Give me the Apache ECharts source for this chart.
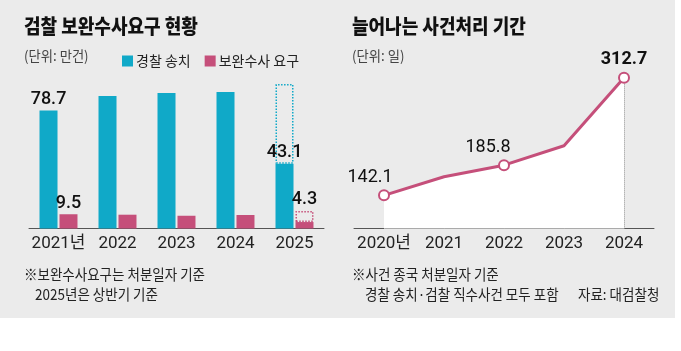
<!DOCTYPE html>
<html>
<head>
<meta charset="utf-8">
<script src="https://cdn.jsdelivr.net/npm/echarts@6/dist/echarts.min.js"></script>
<style>
  html, body { margin: 0; padding: 0; background: #fff; }
  #chart { width: 681px; height: 351px; }
</style>
</head>
<body>
<div id="chart"></div>
<script>
// Left panel: prosecution supplementary investigation requests (unit: 10k cases)
const years = ['2021년', '2022', '2023', '2024', '2025'];
const policeReferral = [78.7, 88.3, 90.3, 91.0, 43.1];
const supplementRequest = [9.5, 9.2, 8.5, 9.0, 4.3];
// 2025 is first-half only; dotted outline shows the full-year frame
const policeOutline = [null, null, null, null, 96.3];
const supplementOutline = [null, null, null, null, 11.7];

// Right panel: case processing period (unit: days)
const dayYears = ['2020년', '2021', '2022', '2023', '2024'];
const processingDays = [142.1, 169.1, 185.8, 214.0, 312.7];

const CYAN = '#10a9c8';
const PINK = '#c54f7a';
const NUM_FONT = 'Roboto, "Noto Sans CJK KR", sans-serif';
const KR_FONT = '"Noto Sans CJK KR", sans-serif';

const chart = echarts.init(document.getElementById('chart'), null, { renderer: 'canvas' });

// text helper; condensed look is faked with a horizontal scale
function txt(text, x, y, size, sx, style) {
  return {
    type: 'text', x: x, y: y, z: 10, scaleX: sx,
    style: Object.assign({
      text: text, fill: '#222', fontSize: size, fontFamily: KR_FONT,
      verticalAlign: 'middle'
    }, style || {})
  };
}

const numLabel = { color: '#111', fontSize: 18, fontWeight: 500, fontFamily: NUM_FONT, distance: 2 };

// dotted guide lines for the marked points on the right chart
const markedDays = [0, 2, 4];

const option = {
  animation: false,
  backgroundColor: '#fff',
  graphic: [
    { type: 'rect', z: -10, shape: { x: 0, y: 0, width: 675, height: 318 }, style: { fill: '#ebebeb' } },
    txt('검찰 보완수사요구 현황', 24, 26, 20, 0.9, { fontWeight: 900, fill: '#111' }),
    txt('(단위: 만건)', 24, 56, 14, 0.95, { fill: '#444' }),
    txt('늘어나는 사건처리 기간', 352, 26, 20, 0.9, { fontWeight: 900, fill: '#111' }),
    txt('(단위: 일)', 352, 56, 14, 0.95, { fill: '#444' }),
    txt('※보완수사요구는 처분일자 기준', 24, 274, 15, 0.9),
    txt('2025년은 상반기 기준', 35, 294, 15, 0.9),
    txt('※사건 종국 처분일자 기준', 352, 274, 15, 0.9),
    txt('경찰 송치·검찰 직수사건 모두 포함', 365, 294, 15, 0.9),
    txt('자료: 대검찰청', 578, 294, 15, 0.9)
  ],
  legend: {
    data: ['경찰 송치', '보완수사 요구'],
    left: 117, top: 49,
    icon: 'rect', itemWidth: 11, itemHeight: 11, itemGap: 14,
    textStyle: { color: '#222', fontSize: 14, fontFamily: KR_FONT, padding: [0, 0, 0, -2] },
    selectedMode: false
  },
  grid: [
    { left: 29, top: 78.5, width: 295, height: 150 },
    { left: 354, top: 68.5, width: 300, height: 160 }
  ],
  xAxis: [
    {
      type: 'category', gridIndex: 0, data: years,
      axisLine: { lineStyle: { color: '#555', width: 1 } },
      axisTick: { show: false },
      axisLabel: { interval: 0, color: '#222', fontSize: 17, fontFamily: NUM_FONT, margin: 7 }
    },
    {
      type: 'category', gridIndex: 1, data: dayYears,
      axisLine: { lineStyle: { color: '#555', width: 1 } },
      axisTick: {
        show: true, inside: true, length: 7, alignWithLabel: true,
        interval: (i) => markedDays.indexOf(i) < 0,
        lineStyle: { color: '#777' }
      },
      axisLabel: { interval: 0, color: '#222', fontSize: 17, fontFamily: NUM_FONT, margin: 7 }
    }
  ],
  yAxis: [
    { type: 'value', gridIndex: 0, min: 0, max: 100, show: false, splitLine: { show: false } },
    { type: 'value', gridIndex: 1, min: 94, max: 326, show: false, splitLine: { show: false } }
  ],
  series: [
    {
      name: '경찰 송치', type: 'bar', xAxisIndex: 0, yAxisIndex: 0, stack: 'police',
      barWidth: 18, barGap: '11%',
      itemStyle: { color: CYAN },
      label: Object.assign({ position: 'top' }, numLabel),
      data: policeReferral.map((v, i) => ({ value: v, label: { show: i === 0 || i === years.length - 1 } }))
    },
    {
      name: 'police-outline', type: 'bar', xAxisIndex: 0, yAxisIndex: 0, stack: 'police',
      barWidth: 18,
      itemStyle: { color: 'rgba(0,0,0,0)', borderColor: CYAN, borderWidth: 1.5, borderType: 'dotted' },
      data: policeOutline.map((v, i) => (v == null ? null : v - policeReferral[i]))
    },
    {
      name: '보완수사 요구', type: 'bar', xAxisIndex: 0, yAxisIndex: 0, stack: 'supp',
      barWidth: 18,
      itemStyle: { color: PINK },
      label: Object.assign({ position: 'top' }, numLabel),
      data: supplementRequest.map((v, i) => ({ value: v, label: { show: i === 0 } }))
    },
    {
      name: 'supp-outline', type: 'bar', xAxisIndex: 0, yAxisIndex: 0, stack: 'supp',
      barWidth: 18,
      itemStyle: { color: 'rgba(0,0,0,0)', borderColor: PINK, borderWidth: 1.5, borderType: 'dotted' },
      label: Object.assign({
        position: 'top', show: true,
        formatter: (p) => String(supplementRequest[p.dataIndex])
      }, numLabel),
      data: supplementOutline.map((v, i) => (v == null ? null : v - supplementRequest[i]))
    },
    {
      name: '사건처리 기간', type: 'line', xAxisIndex: 1, yAxisIndex: 1,
      lineStyle: { color: PINK, width: 3 },
      itemStyle: { color: '#fff', borderColor: PINK, borderWidth: 2 },
      areaStyle: { color: '#fff', opacity: 1, origin: 'start' },
      symbolSize: 10,
      z: 3,
      label: { show: false },
      data: processingDays.map((v, i) => {
        const marked = markedDays.indexOf(i) >= 0;
        const last = i === processingDays.length - 1;
        return {
          value: v,
          symbol: marked ? 'circle' : 'none',
          label: {
            show: marked, position: 'top', distance: 3,
            offset: last ? [0, 0] : [i === 0 ? -14 : -16, 0],
            color: '#111', fontSize: 18, fontFamily: NUM_FONT,
            fontWeight: last ? 'bold' : 'normal'
          }
        };
      }),
      markLine: {
        silent: true, symbol: ['none', 'none'], z: 2,
        label: { show: false },
        lineStyle: { type: 'dotted', color: '#999', width: 1 },
        data: markedDays.map((i) => [
          { coord: [dayYears[i], processingDays[i]] },
          { coord: [dayYears[i], 94] }
        ])
      }
    }
  ]
};

chart.setOption(option);
</script>
</body>
</html>
